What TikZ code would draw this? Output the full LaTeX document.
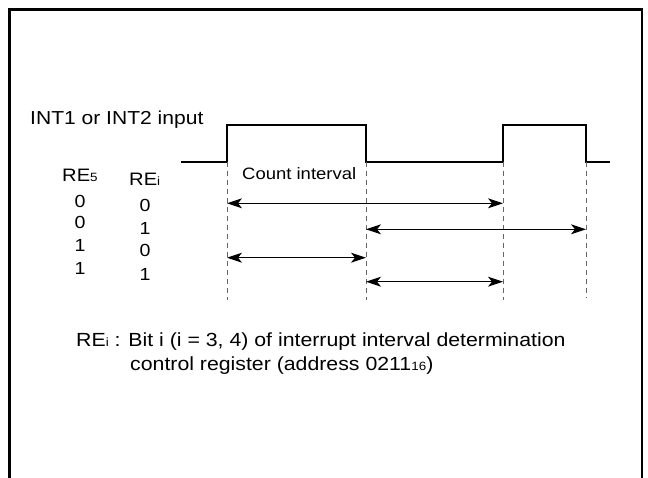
\documentclass[tikz,border=0pt]{standalone}
\usepackage{fontspec}
\setmainfont{Liberation Sans}[FakeStretch=1.12]
\usetikzlibrary{arrows.meta}
\newcommand{\fs}[1]{\fontsize{#1bp}{1.2\dimexpr#1bp\relax}\selectfont}
\newcommand{\sbs}[1]{{\fontsize{12bp}{14bp}\selectfont #1}}
\tikzset{
  frame/.style={line width=2.5bp, black},
  wave/.style={line width=2bp, black, line join=miter},
  guide/.style={line width=1bp, black!60, dash pattern=on 5bp off 4bp},
  span/.style={line width=1bp, black, {Stealth[length=15bp,width=10bp,inset=4bp]}-{Stealth[length=15bp,width=10bp,inset=4bp]}},
  txt/.style={inner sep=0pt, anchor=base west},
  dig/.style={inner sep=0pt, anchor=base, font=\fs{17.5}},
}
\begin{document}
\begin{tikzpicture}[x=1bp, y=-1bp]
\useasboundingbox (0,0) rectangle (648,478);
% frame (open at the bottom)
\draw[frame] (9.5,490) -- (9.5,9.5) -- (642,9.5) -- (642,490);
% edge coordinates
\coordinate (s)  at (181,161.7);
\coordinate (e1) at (227,161.7);
\coordinate (e2) at (366,161.7);
\coordinate (e3) at (503,161.7);
\coordinate (e4) at (586,161.7);
\coordinate (t)  at (610,161.7);
\coordinate (h1) at (227,125);
\coordinate (h2) at (366,125);
\coordinate (h3) at (503,125);
\coordinate (h4) at (586,125);
% waveform
\draw[wave] (s) -- (e1) -- (h1) -- (h2) -- (e2) -- (e3) -- (h3) -- (h4) -- (e4) -- (t);
% guide lines
\coordinate (b1) at (227,300);
\coordinate (b2) at (366,300);
\coordinate (b3) at (503,300);
\coordinate (b4) at (586,298);
\draw[guide] (e1) -- (b1);
\draw[guide] (e2) -- (b2);
\draw[guide] (e3) -- (b3);
\draw[guide] (e4) -- (b4);
% arrows
\coordinate (r1l) at (227,203.3); \coordinate (r1r) at (503,203.3);
\coordinate (r2l) at (366,229.3); \coordinate (r2r) at (586,229.3);
\coordinate (r3l) at (227,257.7); \coordinate (r3r) at (366,257.7);
\coordinate (r4l) at (366,281.7); \coordinate (r4r) at (503,281.7);
\draw[span] (r1l) -- (r1r);
\draw[span] (r2l) -- (r2r);
\draw[span] (r3l) -- (r3r);
\draw[span] (r4l) -- (r4r);
% labels
\node[txt, font=\fs{18.8}] (inp) at (30,125) {INT1 or INT2 input};
\node[txt, font=\fs{16.5}] (cnt) at (242,180) {Count interval};
\node[txt, font=\fs{18}] (re5) at (62,182) {RE\sbs{5}};
\node[txt, font=\fs{18}] (rei) at (129,186) {RE\sbs{i}};
\node[dig] (a1) at (80,207.5) {0};
\node[dig] (a2) at (80,228.4) {0};
\node[dig] (a3) at (80,251.4) {1};
\node[dig] (a4) at (80,274) {1};
\node[dig] (c1) at (145,211.7) {0};
\node[dig] (c2) at (145,234.4) {1};
\node[dig] (c3) at (145,256.9) {0};
\node[dig] (c4) at (145,280) {1};
\node[txt, font=\fs{19}] (n1) at (76,346.7) {RE\sbs{i} : Bit i (i = 3, 4) of interrupt interval determination};
\node[txt, font=\fs{19}] (n2) at (130,370) {control register (address 0211\sbs{16})};
\end{tikzpicture}
\end{document}
